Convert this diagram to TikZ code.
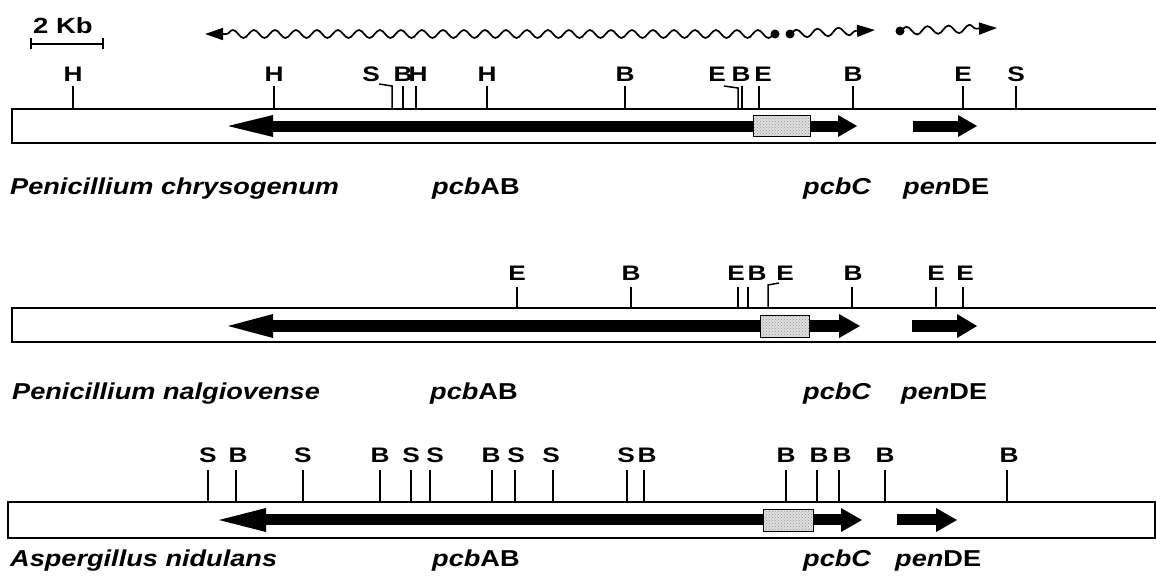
\documentclass[tikz,border=0pt]{standalone}
\usepackage{fontspec}
\setmainfont{Liberation Sans}[FakeStretch=1.18]
\newfontfamily\sitefont{Liberation Sans}[FakeStretch=1.25]
\usetikzlibrary{decorations.pathmorphing,patterns,arrows.meta}
\begin{document}
\begin{tikzpicture}[x=1pt,y=-1pt,
  site/.style={font=\fontsize{21}{21}\sitefont\bfseries, inner sep=0pt, anchor=base},
  cut/.style={line width=1.5pt},
  chrom/.style={draw, line width=1.9pt},
  stipple/.style={draw, line width=0.9pt, preaction={fill=gray!25}, pattern=crosshatch dots, pattern color=gray!85},
  genetxt/.style={font=\fontsize{23}{23}\selectfont\bfseries, inner sep=0pt, anchor=base west},
  species/.style={genetxt, font=\fontsize{23}{23}\selectfont\bfseries\itshape},
  transcript/.style={line width=1.7pt, decorate, decoration={snake, segment length=21pt, amplitude=4pt, post length=17pt}, -{Triangle[length=18pt,width=12pt]}},
  tdot/.style={circle, fill, inner sep=0pt, minimum size=9pt},
]
\useasboundingbox (0,0) rectangle (1156,576);

% ---- scale bar ----
\node[genetxt, anchor=base, font=\fontsize{22}{22}\sitefont\bfseries] (kb) at (63,33) {2 Kb};
\coordinate (sbL) at (31,44);
\coordinate (sbR) at (103,44);
\draw[cut] (sbL) -- (sbR);
\draw[cut] ([yshift=-5pt]sbL) -- ([yshift=6pt]sbL);
\draw[cut] ([yshift=-5pt]sbR) -- ([yshift=6pt]sbR);

% ---- transcripts ----
\node[tdot] (d1) at (775,34) {};
\coordinate (t1) at (205,34);
\draw[transcript] (d1.center) -- (t1);
\node[tdot] (d2) at (790,34) {};
\coordinate (t2) at (875,30);
\draw[transcript] (d2.center) -- (t2);
\node[tdot] (d3) at (900,31) {};
\coordinate (t3) at (997,28);
\draw[transcript] (d3.center) -- (t3);

% ================= Penicillium chrysogenum =================
\draw[chrom] (1160,109) -- (12,109) -- (12,143) -- (1160,143);
\foreach \lx/\tx/\t [count=\i] in {73/73/H, 274/274/H, 403/403/B, 418/416/H, 487/487/H,
    625/625/B, 741/742/B, 763/759/E, 853/853/B, 963/963/E, 1016/1016/S} {
  \node[site] (a\i) at (\lx,81) {\t};
  \draw[cut] (\tx,86) -- (\tx,109);
}
\node[site] (aS) at (371,81) {S};
\draw[cut] (379,84) -- (392,86) -- (392,109);
\node[site] (aE) at (717,81) {E};
\draw[cut] (724,86) -- (738,88) -- (738,109);
% genes
\fill (273,120.5) rectangle (838,131.5);
\fill (273,115) -- (228,126) -- (273,137) -- cycle;
\fill (838,115) -- (857,126) -- (838,137) -- cycle;
\draw[stipple] (753,115) rectangle (810,136);
\fill (913,120.5) rectangle (958,131.5);
\fill (958,115) -- (977,126) -- (958,137) -- cycle;
% names
\node[species] (sp1) at (10,194) {Penicillium chrysogenum};
\node[genetxt] (g1a) at (432,194) {\textit{pcb}AB};
\node[genetxt] (g1c) at (803,194) {\textit{pcbC}};
\node[genetxt] (g1d) at (903,194) {\textit{pen}DE};

% ================= Penicillium nalgiovense =================
\draw[chrom] (1160,308) -- (12,308) -- (12,342) -- (1160,342);
\foreach \lx/\tx/\t [count=\i] in {517/517/E, 631/631/B, 736/738/E, 757/748/B,
    853/852/B, 936/936/E, 965/963/E} {
  \node[site] (b\i) at (\lx,280) {\t};
  \draw[cut] (\tx,287) -- (\tx,308);
}
\node[site] (bE) at (785,280) {E};
\draw[cut] (768,308) -- (768,285) -- (779,283);
% genes
\fill (273,320) rectangle (839,332);
\fill (273,314) -- (228,326) -- (273,338) -- cycle;
\fill (839,314) -- (860,326) -- (839,338) -- cycle;
\draw[stipple] (760,315) rectangle (809,337);
\fill (912,320) rectangle (957,332);
\fill (957,314) -- (977,326) -- (957,338) -- cycle;
% names
\node[species] (sp2) at (12,399) {Penicillium nalgiovense};
\node[genetxt] (g2a) at (430,399) {\textit{pcb}AB};
\node[genetxt] (g2c) at (803,399) {\textit{pcbC}};
\node[genetxt] (g2d) at (901,399) {\textit{pen}DE};

% ================= Aspergillus nidulans =================
\draw[chrom] (8,502) rectangle (1155,538);
\foreach \lx/\tx/\t [count=\i] in {208/208/S, 238/236/B, 303/303/S, 380/380/B, 411/411/S,
    435/430/S, 491/492/B, 516/515/S, 551/553/S, 626/627/S, 647/644/B, 786/786/B,
    819/817/B, 842/839/B, 885/885/B, 1009/1007/B} {
  \node[site] (c\i) at (\lx,462) {\t};
  \draw[cut] (\tx,470) -- (\tx,502);
}
% genes
\fill (266,514) rectangle (841,525);
\fill (266,508) -- (219,520) -- (266,532) -- cycle;
\fill (841,508) -- (862,520) -- (841,532) -- cycle;
\draw[stipple] (763,509) rectangle (813,531);
\fill (897,514) rectangle (936,525);
\fill (936,508) -- (957,520) -- (936,532) -- cycle;
% names
\node[species] (sp3) at (10,566) {Aspergillus nidulans};
\node[genetxt] (g3a) at (432,566) {\textit{pcb}AB};
\node[genetxt] (g3c) at (803,566) {\textit{pcbC}};
\node[genetxt] (g3d) at (895,566) {\textit{pen}DE};
\end{tikzpicture}
\end{document}
